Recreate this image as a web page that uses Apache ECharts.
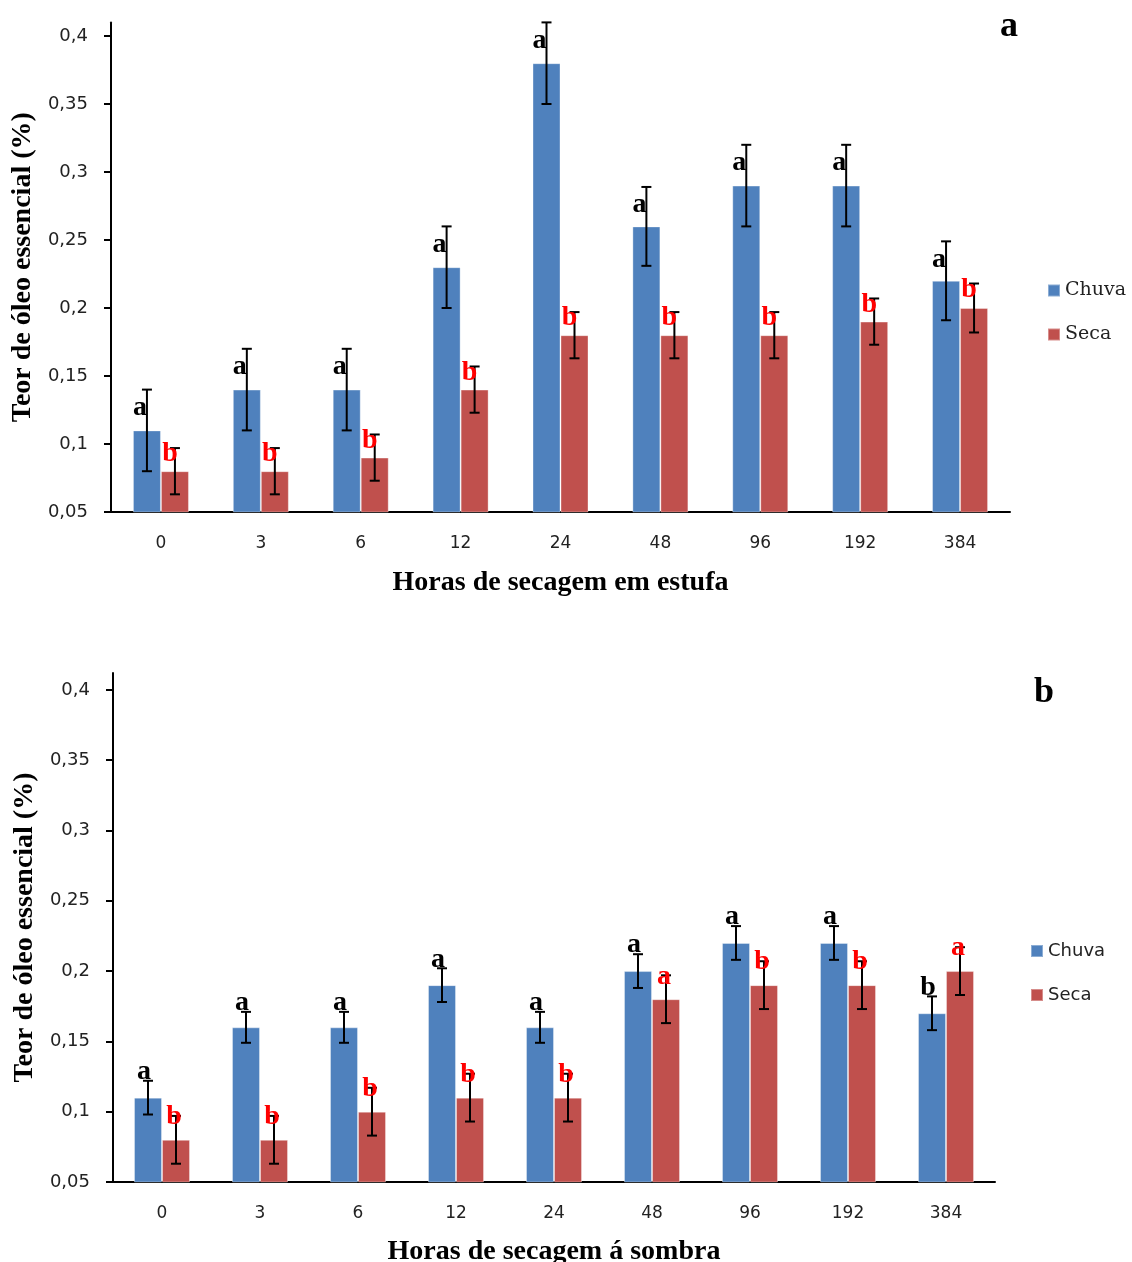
<!DOCTYPE html>
<html>
<head>
<meta charset="utf-8">
<script src="https://cdn.jsdelivr.net/npm/echarts@6/dist/echarts.min.js"></script>
<style>html,body{margin:0;padding:0;background:#fff}#c{width:1132px;height:1262px}</style>
</head>
<body>
<div id="c"></div>
<script>
const categories = ['0','3','6','12','24','48','96','192','384'];
const yTicks = [0.05,0.1,0.15,0.2,0.25,0.3,0.35,0.4];
const seriesNames = ['Chuva','Seca'];

// Chart a: Horas de secagem em estufa
const estufaChuva = [0.11,0.14,0.14,0.23,0.38,0.26,0.29,0.29,0.22];
const estufaSeca  = [0.08,0.08,0.09,0.14,0.18,0.18,0.18,0.19,0.20];
const estufaChuvaErr = [0.03,0.03,0.03,0.03,0.03,0.029,0.03,0.03,0.029];
const estufaSecaErr  = [0.017,0.017,0.017,0.017,0.017,0.017,0.017,0.017,0.018];
const estufaChuvaLetters = ['a','a','a','a','a','a','a','a','a'];
const estufaSecaLetters  = ['b','b','b','b','b','b','b','b','b'];

// Chart b: Horas de secagem á sombra
const sombraChuva = [0.11,0.16,0.16,0.19,0.16,0.20,0.22,0.22,0.17];
const sombraSeca  = [0.08,0.08,0.10,0.11,0.11,0.18,0.19,0.19,0.20];
const sombraChuvaErr = [0.012,0.011,0.011,0.012,0.011,0.012,0.012,0.012,0.012];
const sombraSecaErr  = [0.017,0.017,0.017,0.017,0.017,0.017,0.017,0.017,0.017];
const sombraChuvaLetters = ['a','a','a','a','a','a','a','a','b'];
const sombraSecaLetters  = ['b','b','b','b','b','a','b','b','a'];

const BLUE = '#4F81BD', RED = '#C0504D';
const BAR_W = 28;
const fmt = v => String(+v.toFixed(2)).replace('.', ',');

function triples(vals, errs) { return vals.map((v, i) => [i, v, errs[i]]); }

function errSeries(vals, errs, side, gi) {
  return {
    type: 'custom', xAxisIndex: gi, yAxisIndex: gi, silent: true, clip: false, z: 5,
    data: triples(vals, errs),
    renderItem: function (params, api) {
      const i = api.value(0), v = api.value(1), e = api.value(2);
      const t = api.coord([i, v + e]), b = api.coord([i, v - e]);
      const x = t[0] + side * BAR_W / 2;
      const st = { stroke: '#000', lineWidth: 2 };
      return { type: 'group', children: [
        { type: 'line', shape: { x1: x, y1: t[1], x2: x, y2: b[1] }, style: st },
        { type: 'line', shape: { x1: x - 5, y1: t[1], x2: x + 5, y2: t[1] }, style: st },
        { type: 'line', shape: { x1: x - 5, y1: b[1], x2: x + 5, y2: b[1] }, style: st }
      ]};
    }
  };
}

function letterSeries(vals, errs, letters, side, gi, color, dx, dy) {
  return {
    type: 'custom', xAxisIndex: gi, yAxisIndex: gi, silent: true, clip: false, z: 6,
    data: triples(vals, errs),
    renderItem: function (params, api) {
      const i = api.value(0), v = api.value(1), e = api.value(2);
      const t = api.coord([i, v + e]);
      const x = t[0] + side * BAR_W / 2 + dx;
      return { type: 'text', x: x, y: t[1] + dy, style: {
        text: letters[params.dataIndex], fill: color,
        font: 'bold 28px "Liberation Serif", "DejaVu Serif", serif',
        align: 'center', verticalAlign: 'middle'
      }};
    }
  };
}

function barSeries(name, vals, color, gi) {
  return { name: name, type: 'bar', xAxisIndex: gi, yAxisIndex: gi, data: vals,
    barWidth: BAR_W, barGap: '0%', itemStyle: { color: color, borderColor: 'rgba(255,255,255,0.35)', borderWidth: 1 } };
}

const axisNameStyle = { fontFamily: '"Liberation Serif", serif', fontWeight: 'bold', fontSize: 28, color: '#000' };

function xAxis(gi, name, gap) {
  return { type: 'category', gridIndex: gi, data: categories,
    axisTick: { show: false },
    axisLine: { lineStyle: { color: '#000', width: 2 } },
    axisLabel: { color: '#222', fontSize: 17, fontFamily: 'DejaVu Sans', margin: 23 },
    name: name, nameLocation: 'middle', nameGap: gap, nameTextStyle: axisNameStyle };
}
function yAxis(gi, max, gap) {
  return { type: 'value', gridIndex: gi, min: 0.05, max: max,
    splitLine: { show: false },
    axisLine: { show: true, lineStyle: { color: '#000', width: 2 } },
    axisTick: { show: true, length: 7, customValues: yTicks, lineStyle: { color: '#000', width: 2 } },
    axisLabel: { customValues: yTicks, formatter: fmt, color: '#222', fontSize: 18, fontFamily: 'DejaVu Sans', margin: 23 },
    name: 'Teor de óleo essencial (%)', nameLocation: 'middle', nameGap: gap, nameTextStyle: axisNameStyle };
}

const option = {
  animation: false,
  backgroundColor: '#fff',
  title: [
    { text: 'a', left: 1000, top: 9, padding: 0, textStyle: { fontFamily: '"Liberation Serif", serif', fontWeight: 'bold', fontSize: 36, color: '#000' } },
    { text: 'b', left: 1034, top: 675, padding: 0, textStyle: { fontFamily: '"Liberation Serif", serif', fontWeight: 'bold', fontSize: 36, color: '#000' } }
  ],
  legend: [
    { data: seriesNames, orient: 'vertical', left: 1042, top: 276, itemWidth: 12, itemHeight: 12, itemGap: 25, icon: 'rect',
      textStyle: { fontSize: 19, fontFamily: 'DejaVu Serif', color: '#222' } },
    { data: seriesNames, orient: 'vertical', left: 1025, top: 937, itemWidth: 12, itemHeight: 12, itemGap: 26, icon: 'rect',
      textStyle: { fontSize: 18, fontFamily: 'DejaVu Sans', color: '#222' } }
  ],
  grid: [
    { left: 111, top: 22.4, width: 899, height: 489.6, outerBoundsMode: 'none', containLabel: false },
    { left: 113, top: 673, width: 882, height: 509, outerBoundsMode: 'none', containLabel: false }
  ],
  xAxis: [ xAxis(0, 'Horas de secagem em estufa', 57), xAxis(1, 'Horas de secagem á sombra', 56) ],
  yAxis: [ yAxis(0, 0.41, 73), yAxis(1, 0.412, 72) ],
  series: [
    barSeries('Chuva', estufaChuva, BLUE, 0),
    barSeries('Seca', estufaSeca, RED, 0),
    errSeries(estufaChuva, estufaChuvaErr, -1, 0),
    errSeries(estufaSeca, estufaSecaErr, 1, 0),
    letterSeries(estufaChuva, estufaChuvaErr, estufaChuvaLetters, -1, 0, '#000', -7, 18),
    letterSeries(estufaSeca, estufaSecaErr, estufaSecaLetters, 1, 0, '#FF0000', -5, 6),
    barSeries('Chuva', sombraChuva, BLUE, 1),
    barSeries('Seca', sombraSeca, RED, 1),
    errSeries(sombraChuva, sombraChuvaErr, -1, 1),
    errSeries(sombraSeca, sombraSecaErr, 1, 1),
    letterSeries(sombraChuva, sombraChuvaErr, sombraChuvaLetters, -1, 1, '#000', -4, -9),
    letterSeries(sombraSeca, sombraSecaErr, sombraSecaLetters, 1, 1, '#FF0000', -2, 1)
  ]
};

const chart = echarts.init(document.getElementById('c'), null, { renderer: 'canvas' });
chart.setOption(option);
</script>
</body>
</html>
